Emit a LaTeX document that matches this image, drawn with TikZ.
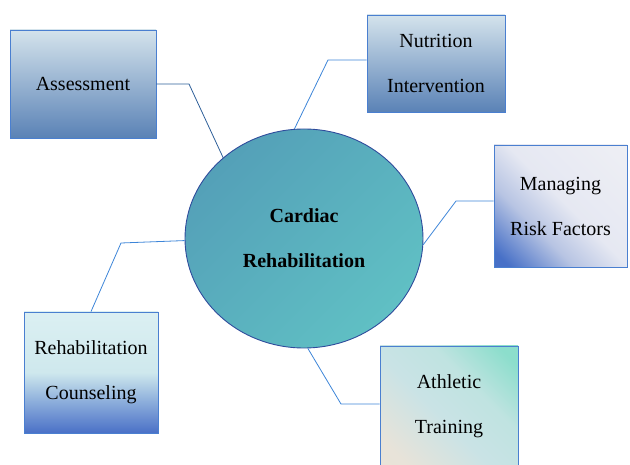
\documentclass[tikz,border=0pt]{standalone}
\usepackage{fontspec}
\setmainfont{Liberation Serif}
\usetikzlibrary{shapes.geometric}

\definecolor{linkblue}{HTML}{3D85D8}
\definecolor{darklink}{HTML}{2E5F99}
\definecolor{boxedge}{HTML}{4A7FD0}
\definecolor{ringblue}{HTML}{2F4C9C}

% fades for the lighter boxes (bottom of the path sits at 25bp, top at 75bp)
\pgfdeclareverticalshading{riskfade}{100bp}{
  rgb(0bp)=(0.28,0.44,0.78); rgb(19bp)=(0.28,0.44,0.78);
  rgb(37bp)=(0.72,0.77,0.89); rgb(52bp)=(0.90,0.91,0.95);
  rgb(100bp)=(0.95,0.95,0.96)}
\pgfdeclareverticalshading{counsfade}{100bp}{
  rgb(0bp)=(0.29,0.44,0.78); rgb(25bp)=(0.29,0.44,0.78);
  rgb(38bp)=(0.55,0.68,0.86); rgb(50bp)=(0.81,0.91,0.93);
  rgb(75bp)=(0.86,0.94,0.95); rgb(100bp)=(0.86,0.94,0.95)}
\pgfdeclareverticalshading{athlfade}{100bp}{
  rgb(0bp)=(0.92,0.89,0.84); rgb(22bp)=(0.91,0.89,0.85);
  rgb(45bp)=(0.79,0.89,0.90); rgb(62bp)=(0.75,0.89,0.88);
  rgb(80bp)=(0.55,0.87,0.80); rgb(100bp)=(0.55,0.87,0.80)}

\tikzset{
  topic/.style = {rectangle, draw = boxedge, line width = 0.8pt, inner sep = 0pt,
                  align = center, font = \fontsize{20}{45}\selectfont},
  steelbox/.style = {topic, top color = {rgb,255:red,212;green,227;blue,236},
                     middle color = {rgb,255:red,160;green,190;blue,207},
                     bottom color = {rgb,255:red,90;green,130;blue,182}},
  link/.style = {draw = linkblue, line width = 0.8pt}
}

\begin{document}
\begin{tikzpicture}[x = 1pt, y = -1pt]
	\useasboundingbox (0,0) rectangle (630,465);
	\clip (0,0) rectangle (630,465);

	% centre
	\node[ellipse, draw = ringblue, line width = 0.9pt, inner sep = 0pt,
	      minimum width = 238, minimum height = 219,
	      top color = {rgb,255:red,84;green,160;blue,184},
	      bottom color = {rgb,255:red,96;green,192;blue,196}, shading angle = 45,
	      align = center, font = \bfseries\fontsize{20}{45}\selectfont]
	      (card) at (304,238.5) {Cardiac\\Rehabilitation};

	% topics
	\node[steelbox, minimum width = 146, minimum height = 108] (asmt) at (83,84) {Assessment};
	\node[steelbox, minimum width = 138, minimum height = 97] (nutr) at (436,63.5) {Nutrition\\Intervention};
	\node[topic, minimum width = 133, minimum height = 122,
	      shading = riskfade, shading angle = -45]
	      (risk) at (560.5,206) {Managing\\Risk Factors};
	\node[topic, minimum width = 134, minimum height = 121, shading = counsfade]
	      (couns) at (91,372.5) {Rehabilitation\\Counseling};
	\node[topic, minimum width = 138, minimum height = 120,
	      shading = athlfade, shading angle = -45]
	      (athl) at (449,406) {Athletic\\Training};

	% bends
	\coordinate (a1) at (189,84);
	\coordinate (n1) at (328,60);
	\coordinate (r1) at (456,201);
	\coordinate (c1) at (121,243);
	\coordinate (t1) at (341,404);

	\draw[link, draw = darklink] (asmt.east) -- (a1) -- (card.135);
	\draw[link] (n1 -| nutr.west) -- (n1) -- (card.95);
	\draw[link] (r1 -| risk.west) -- (r1) -- (card.-3);
	\draw[link] (couns.north) -- (c1) -- (card.181);
	\draw[link] (card.272) -- (t1) -- (t1 -| athl.west);
\end{tikzpicture}
\end{document}
